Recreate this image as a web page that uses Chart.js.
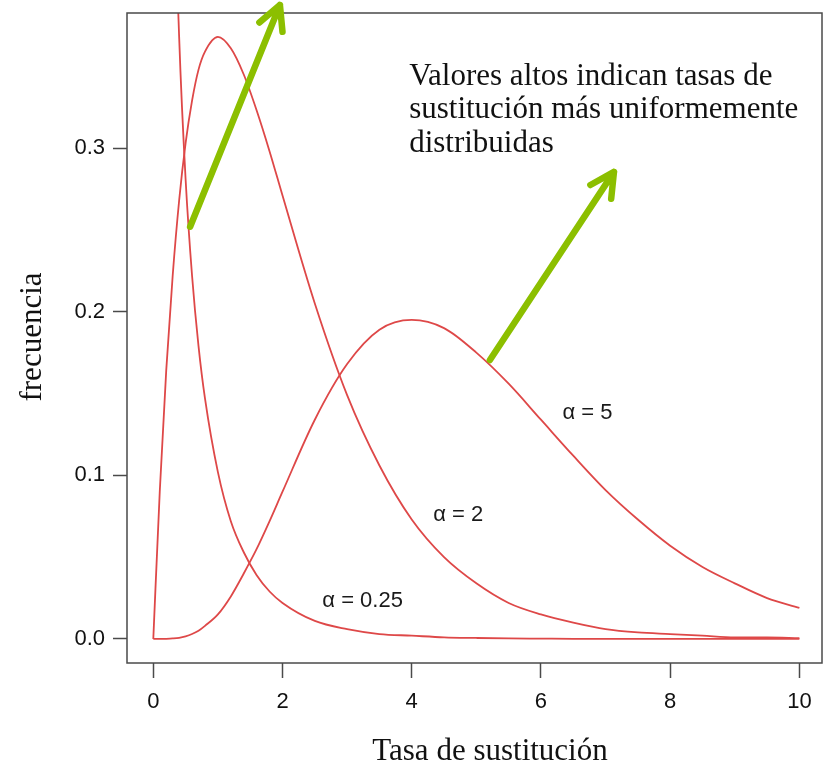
<!DOCTYPE html>
<html>
<head>
<meta charset="utf-8">
<script src="https://cdn.jsdelivr.net/npm/chart.js@4.4.1/dist/chart.umd.min.js"></script>
<style>
  html, body { margin: 0; padding: 0; background: #fff; }
  #wrap { width: 824px; height: 763px; }
</style>
</head>
<body>
<div id="wrap"><canvas id="gammaChart" width="824" height="763"></canvas></div>
<script>
// x positions shared by the three curves
const xValues = [0, 0.1, 0.2, 0.3, 0.4, 0.5, 0.6, 0.7, 0.8, 1.0, 1.2, 1.4, 1.6, 1.8, 2.0,
                 2.5, 3.0, 3.5, 4.0, 4.5, 5.0, 5.5, 6.0, 6.5, 7.0, 7.5, 8.0, 8.5, 9.0, 9.5, 10.0];

// frecuencia for each alpha
const alpha025 = [null, 1.403, 0.755, 0.504, 0.368, 0.281, 0.222, 0.179, 0.147, 0.102, 0.072, 0.053, 0.039, 0.029, 0.022,
                  0.011, 0.006, 0.003, 0.002, 0.001, 0.0006, 0.0003, 0.0002, 0.0001, 0.0001, 0, 0, 0, 0, 0, 0];
const alpha2 = [0, 0.090, 0.164, 0.222, 0.268, 0.303, 0.329, 0.348, 0.359, 0.368, 0.361, 0.345, 0.323, 0.298, 0.271,
                0.205, 0.149, 0.106, 0.073, 0.050, 0.034, 0.022, 0.015, 0.010, 0.006, 0.004, 0.003, 0.002, 0.001, 0.001, 0.0005];
const alpha5 = [0, 0, 0.0001, 0.0003, 0.0007, 0.0016, 0.003, 0.005, 0.008, 0.015, 0.026, 0.040, 0.055, 0.072, 0.090,
                0.134, 0.168, 0.189, 0.195, 0.190, 0.175, 0.156, 0.134, 0.112, 0.091, 0.073, 0.057, 0.044, 0.034, 0.025, 0.019];

const xTicks = [0, 2, 4, 6, 8, 10];
const yTicks = [0.0, 0.1, 0.2, 0.3];

const curveLabels = [
    { text: 'α = 5', x: 6.72, y: 0.138 },
    { text: 'α = 2', x: 4.72, y: 0.076 },
    { text: 'α = 0.25', x: 3.24, y: 0.023 }
];
const noteLines = ['Valores altos indican tasas de', 'sustitución más uniformemente', 'distribuidas'];
const noteAnchor = { x: 3.96, y: 0.3386 };
const arrows = [
    { from: [0.57, 0.252], to: [1.96, 0.3875] },
    { from: [5.21, 0.1705], to: [7.13, 0.2855] }
];

function toPoints(values) {
    const pts = [];
    values.forEach(function (v, i) {
        if (v !== null) pts.push({ x: xValues[i], y: v });
    });
    return pts;
}

const lineColor = 'rgb(222, 72, 72)';
const axisColor = '#4a4a4a';
const sansFont = '"Liberation Sans", Arial, sans-serif';
const serifFont = '"Liberation Serif", "Times New Roman", serif';

const decorPlugin = {
    id: 'decor',
    afterDraw(chart) {
        const { ctx, chartArea: a, scales } = chart;
        const x = scales.x, y = scales.y;
        ctx.save();

        // box around the plot
        ctx.strokeStyle = axisColor;
        ctx.lineWidth = 1.5;
        ctx.strokeRect(a.left, a.top, a.right - a.left, a.bottom - a.top);

        // curve labels
        ctx.fillStyle = '#1a1a1a';
        ctx.font = '22px ' + sansFont;
        ctx.textAlign = 'center';
        ctx.textBaseline = 'middle';
        curveLabels.forEach(function (l) {
            ctx.fillText(l.text, x.getPixelForValue(l.x), y.getPixelForValue(l.y));
        });

        // note
        ctx.fillStyle = '#111';
        ctx.font = '31px ' + serifFont;
        ctx.textAlign = 'left';
        ctx.textBaseline = 'alphabetic';
        const nx = x.getPixelForValue(noteAnchor.x);
        const ny = y.getPixelForValue(noteAnchor.y);
        noteLines.forEach(function (t, i) {
            ctx.fillText(t, nx, ny + i * 33.5);
        });

        // green arrows
        ctx.strokeStyle = '#8cbf00';
        ctx.lineWidth = 6.5;
        ctx.lineCap = 'round';
        ctx.lineJoin = 'round';
        arrows.forEach(function (ar) {
            const x0 = x.getPixelForValue(ar.from[0]), y0 = y.getPixelForValue(ar.from[1]);
            const x1 = x.getPixelForValue(ar.to[0]), y1 = y.getPixelForValue(ar.to[1]);
            const ang = Math.atan2(y0 - y1, x0 - x1);
            const len = 27, spread = 0.48;
            ctx.beginPath();
            ctx.moveTo(x0, y0);
            ctx.lineTo(x1, y1);
            ctx.moveTo(x1 + len * Math.cos(ang - spread), y1 + len * Math.sin(ang - spread));
            ctx.lineTo(x1, y1);
            ctx.lineTo(x1 + len * Math.cos(ang + spread), y1 + len * Math.sin(ang + spread));
            ctx.stroke();
        });

        // axis titles
        ctx.fillStyle = '#111';
        ctx.font = '31px ' + serifFont;
        ctx.textAlign = 'center';
        ctx.textBaseline = 'alphabetic';
        ctx.fillText('Tasa de sustitución', 490, 760);
        ctx.translate(41, 337);
        ctx.rotate(-Math.PI / 2);
        ctx.fillText('frecuencia', 0, 0);

        ctx.restore();
    }
};

document.addEventListener('DOMContentLoaded', function () {
    const ctx = document.getElementById('gammaChart').getContext('2d');
    const series = [alpha025, alpha2, alpha5];
    new Chart(ctx, {
        type: 'line',
        data: {
            datasets: series.map(function (s) {
                return {
                    data: toPoints(s),
                    borderColor: lineColor,
                    borderWidth: 1.8,
                    pointRadius: 0,
                    fill: false,
                    cubicInterpolationMode: 'monotone'
                };
            })
        },
        options: {
            responsive: false,
            animation: false,
            layout: { padding: { top: 13, right: 2, left: 0, bottom: 0 } },
            plugins: {
                legend: { display: false },
                tooltip: { enabled: false }
            },
            scales: {
                x: {
                    type: 'linear',
                    min: -0.407,
                    max: 10.35,
                    afterFit: function (scale) {
                        scale.height = 100;
                        scale.paddingLeft = 0;
                        scale.paddingRight = 0;
                    },
                    afterBuildTicks: function (scale) {
                        scale.ticks = xTicks.map(function (v) { return { value: v }; });
                    },
                    border: { display: false },
                    grid: {
                        drawOnChartArea: false,
                        drawTicks: true,
                        tickLength: 15,
                        tickWidth: 1.5,
                        tickColor: axisColor
                    },
                    ticks: {
                        color: '#111',
                        font: { family: sansFont, size: 22 },
                        padding: 11,
                        maxRotation: 0,
                        callback: function (v) { return String(v); }
                    }
                },
                y: {
                    type: 'linear',
                    min: -0.0147,
                    max: 0.3826,
                    afterFit: function (scale) {
                        scale.width = 127;
                        scale.paddingTop = 0;
                        scale.paddingBottom = 0;
                    },
                    afterBuildTicks: function (scale) {
                        scale.ticks = yTicks.map(function (v) { return { value: v }; });
                    },
                    border: { display: false },
                    grid: {
                        drawOnChartArea: false,
                        drawTicks: true,
                        tickLength: 14,
                        tickWidth: 1.5,
                        tickColor: axisColor
                    },
                    ticks: {
                        color: '#111',
                        font: { family: sansFont, size: 22 },
                        padding: 8,
                        callback: function (v) { return v.toFixed(1); }
                    }
                }
            }
        },
        plugins: [decorPlugin]
    });
});
</script>
</body>
</html>
